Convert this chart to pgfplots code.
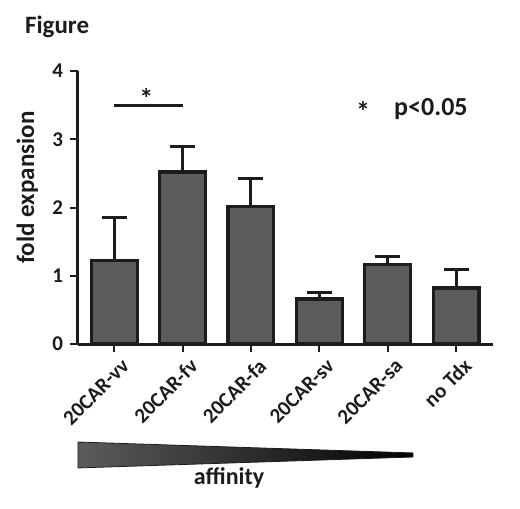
\documentclass[border=0pt]{standalone}
\usepackage{fontspec}
\setmainfont{Carlito}
\usepackage{pgfplots}
\pgfplotsset{compat=1.18}
\definecolor{barfill}{RGB}{92,92,92}
\definecolor{ink}{RGB}{28,28,28}
\begin{document}
\begin{tikzpicture}
\begin{axis}[
  scale only axis, width=207.5pt, height=136.5pt,
  axis lines*=left,
  axis line style={line width=1.5pt, color=ink},
  ybar, bar width=0.67,
  xmin=-0.53, xmax=5.54, ymin=0, ymax=4,
  xtick={0,...,5}, ytick={0,1,2,3,4},
  xticklabels={20CAR-vv,20CAR-fv,20CAR-fa,20CAR-sv,20CAR-sa,no Tdx},
  tick align=outside, major tick length=4pt,
  tick style={line width=1pt, color=ink},
  /pgf/number format/assume math mode=true,
  y tick label style={font=\bfseries\fontsize{10.5}{12}\selectfont, text=ink},
  x tick label style={font=\bfseries\fontsize{10.5}{12}\selectfont, text=ink,
    rotate=45, anchor=north east, inner sep=1pt, yshift=-3pt, xshift=1.5pt},
  ylabel={fold expansion},
  ylabel style={at={(axis description cs:-0.122,0.573)}, anchor=center, rotate=0,
    font=\bfseries\fontsize{12.5}{14}\selectfont, text=ink},
  clip=false,
]
\addplot[fill=barfill, draw=ink, line width=1.6pt,
  error bars/.cd, y dir=plus, y explicit,
  error bar style={line width=1.5pt, color=ink},
  error mark options={rotate=90, line width=1.5pt, color=ink, mark size=6.25pt}]
  coordinates {
    (0,1.22) +- (0,0.63)
    (1,2.52) +- (0,0.38)
    (2,2.02) +- (0,0.41)
    (3,0.66) +- (0,0.09)
    (4,1.16) +- (0,0.12)
    (5,0.82) +- (0,0.27)
  };
\draw[line width=1.5pt, ink] (axis cs:0,3.5) -- (axis cs:1,3.5);
\node[font=\bfseries\fontsize{14}{16}\selectfont, text=ink] at (axis cs:0.47,3.6) {*};
\node[font=\bfseries\fontsize{14}{16}\selectfont, text=ink] at (axis description cs:0.687,0.85) {*};
\node[anchor=west, font=\bfseries\fontsize{13}{15}\selectfont, text=ink] at (axis description cs:0.745,0.861) {p<0.05};
\node[anchor=west, font=\bfseries\fontsize{12.5}{14}\selectfont, text=ink] at (axis description cs:-0.1446,1.161) {Figure};
\shade[left color=barfill, right color=black, draw=ink, line width=0.4pt]
  (axis description cs:0,-0.359) -- (axis description cs:0.807,-0.399)
  -- (axis description cs:0.807,-0.414) -- (axis description cs:0,-0.454) -- cycle;
\node[font=\bfseries\fontsize{12}{14}\selectfont, text=ink] at (axis description cs:0.364,-0.491) {affinity};
\end{axis}
\pgfresetboundingbox
\path[use as bounding box] ([xshift=-39pt,yshift=172pt]current axis.south west)
  rectangle ([xshift=221pt,yshift=-82.5pt]current axis.south west);
\end{tikzpicture}
\end{document}
